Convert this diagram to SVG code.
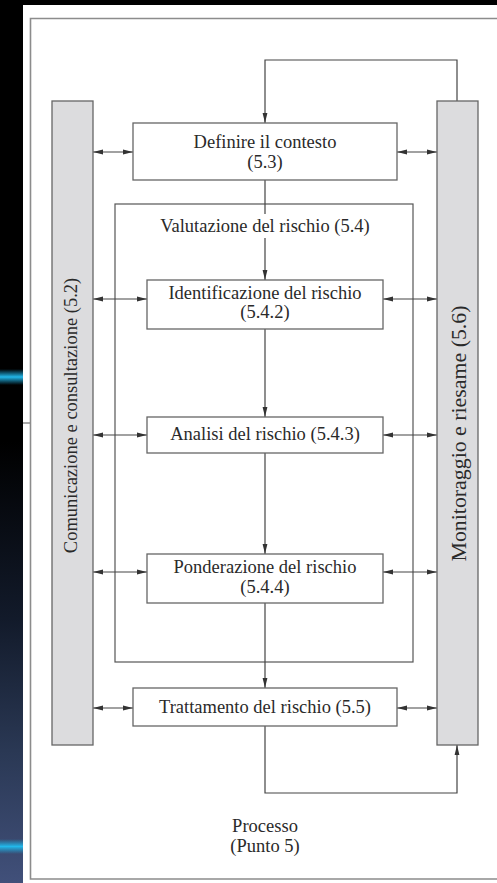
<svg xmlns="http://www.w3.org/2000/svg" width="497" height="883" viewBox="0 0 497 883">
<defs>
  <linearGradient id="bg" x1="0" y1="0" x2="0" y2="883" gradientUnits="userSpaceOnUse">
    <stop offset="0" stop-color="#000000"/>
    <stop offset="0.5" stop-color="#000000"/>
    <stop offset="0.7" stop-color="#121a2a"/>
    <stop offset="0.85" stop-color="#2a3854"/>
    <stop offset="1" stop-color="#41507a"/>
  </linearGradient>
  <linearGradient id="glow" x1="0" y1="0" x2="0" y2="1">
    <stop offset="0" stop-color="#1aa8dc" stop-opacity="0"/>
    <stop offset="0.5" stop-color="#22b8ea" stop-opacity="1"/>
    <stop offset="1" stop-color="#1aa8dc" stop-opacity="0"/>
  </linearGradient>
  <marker id="ah" viewBox="0 0 10 6" refX="10" refY="3" markerWidth="10" markerHeight="6" markerUnits="userSpaceOnUse" orient="auto-start-reverse">
    <path d="M0,0.6 L10,3 L0,5.4 z" fill="#333"/>
  </marker>
</defs>
<style>
  .box{fill:#ffffff;stroke:#666;stroke-width:1.3}
  .frame{fill:none;stroke:#555;stroke-width:1.2}
  .bar{fill:#dcdcde;stroke:#666;stroke-width:1.3}
  .t{font-family:"Liberation Serif","Times New Roman",serif;font-size:18.5px;fill:#2a2a2a;text-anchor:middle}
  .c{fill:none;stroke:#444;stroke-width:1.2}
  .d{marker-start:url(#ah);marker-end:url(#ah)}
  .a{marker-end:url(#ah)}
</style>

<!-- background -->
<rect x="0" y="0" width="497" height="883" fill="#000"/>
<rect x="0" y="0" width="23" height="883" fill="url(#bg)"/>
<rect x="0" y="369" width="23" height="16" fill="url(#glow)"/>
<rect x="0" y="839" width="23" height="15" fill="url(#glow)"/>
<rect x="23" y="5" width="474" height="878" fill="#ffffff"/>
<line x1="23" y1="423" x2="30" y2="423" stroke="#555" stroke-width="1"/>
<path d="M497,18.5 H30.5 V879 H497" fill="none" stroke="#8c8c8c" stroke-width="1.6"/>

<g id="valutazione">
  <rect class="frame" x="115" y="204" width="298" height="458"/>
  <text class="t" x="265" y="232">Valutazione del rischio (5.4)</text>
</g>

<g id="connectors">
  <path class="c a" d="M457,101 V60 H265 V123"/>
  <path class="c" d="M265,180 V214"/>
  <path class="c a" d="M265,238 V280"/>
  <path class="c a" d="M265,329 V417"/>
  <path class="c a" d="M265,453 V554"/>
  <path class="c a" d="M265,603 V688"/>
  <path class="c a" d="M265,726 V793 H457 V745"/>
  <path class="c d" d="M93,152 H133"/>
  <path class="c d" d="M93,299 H147"/>
  <path class="c d" d="M93,435 H147"/>
  <path class="c d" d="M93,572 H147"/>
  <path class="c d" d="M93,708 H133"/>
  <path class="c d" d="M397,152 H437"/>
  <path class="c d" d="M383,299 H437"/>
  <path class="c d" d="M383,435 H437"/>
  <path class="c d" d="M383,572 H437"/>
  <path class="c d" d="M397,708 H437"/>
</g>

<g id="comunicazione">
  <rect class="bar" x="52" y="101" width="41" height="644"/>
  <text class="t" transform="translate(77,415.5) rotate(-90)">Comunicazione e consultazione (5.2)</text>
</g>
<g id="monitoraggio">
  <rect class="bar" x="437" y="101" width="41" height="644"/>
  <text class="t" style="font-size:20px" textLength="256" lengthAdjust="spacingAndGlyphs" transform="translate(466,433.5) rotate(-90)">Monitoraggio e riesame (5.6)</text>
</g>
<g id="definire">
  <rect class="box" x="133" y="123" width="264" height="57"/>
  <text class="t" x="265" y="148">Definire il contesto</text>
  <text class="t" x="265" y="168">(5.3)</text>
</g>
<g id="identificazione">
  <rect class="box" x="147" y="280" width="236" height="49"/>
  <text class="t" x="265" y="299">Identificazione del rischio</text>
  <text class="t" x="265" y="318">(5.4.2)</text>
</g>
<g id="analisi">
  <rect class="box" x="147" y="417" width="236" height="36"/>
  <text class="t" x="265" y="440">Analisi del rischio (5.4.3)</text>
</g>
<g id="ponderazione">
  <rect class="box" x="147" y="554" width="236" height="49"/>
  <text class="t" x="265" y="573">Ponderazione del rischio</text>
  <text class="t" x="265" y="593">(5.4.4)</text>
</g>
<g id="trattamento">
  <rect class="box" x="133" y="688" width="264" height="38"/>
  <text class="t" x="265" y="713">Trattamento del rischio (5.5)</text>
</g>
<g id="processo">
  <text class="t" x="265" y="832">Processo</text>
  <text class="t" x="265" y="852">(Punto 5)</text>
</g>
</svg>
